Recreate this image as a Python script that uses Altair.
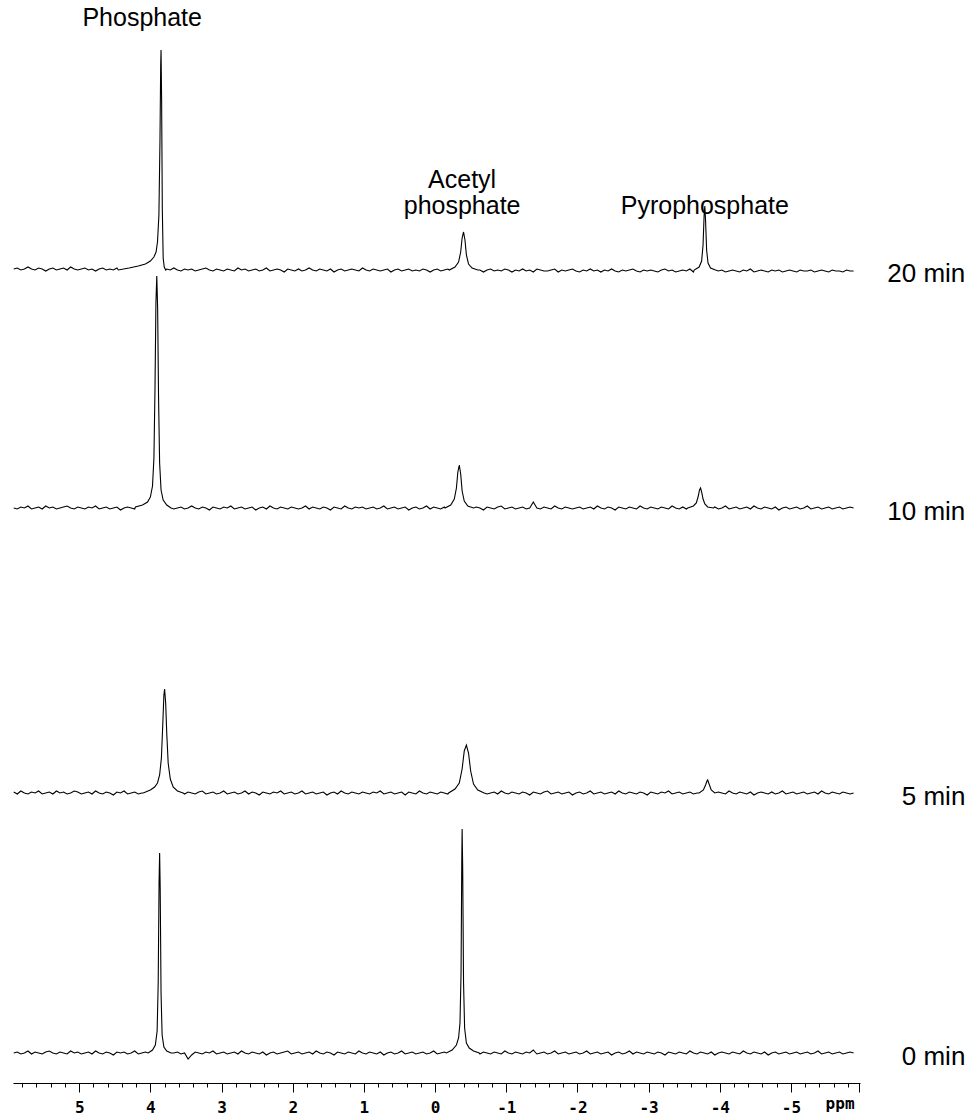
import altair as alt
import numpy as np
import pandas as pd

# ---------------- data ----------------
spectra = ["20 min", "10 min", "5 min", "0 min"]
baseline_level = [813, 575, 290, 30]          # stacking offset of each trace (intensity units)

grid_start = 5.92                              # ppm, acquisition grid of the baseline samples
grid_step = 0.05

noise_20 = [1, 2, 0, 1, 3, 1, 0, 2, 1, -1, 1, 2, 0, 1, 2, 0, 3, 1, 0, 1,
            2, 0, 1, -1, 1, 2, 0, 1, 0, 2, 1, -1, 0, 2, 1, 0, 1, 2, -1, 1,
            0, 1, -1, 1, 0, 2, 0, -1, 1, 0, 1, -1, 0, 1, 2, 0, -1, 1, 0, -1,
            1, 0, -1, 2, 0, 1, -1, 0, 1, -1, 0, 2, -1, 0, 1, 0, -2, 1, 0, -1,
            1, -1, 0, 2, 0, -1, 1, 0, -1, 1, -2, 0, 1, -1, 0, 1, 0, -1, 2, 0,
            -1, 1, 0, -1, 0, 1, -2, 0, 1, -1, 0, 1, -1, 0, -1, 1, 0, -2, 0, 1,
            -1, 0, 1, -1, 0, -2, 1, 0, -1, 1, -1, 0, -2, 0, 1, -1, 0, -1, 1, 0,
            -2, 0, -1, 1, -1, 0, -2, 1, 0, -1, -1, 0, 1, -2, 0, -1, 0, 1, -1, -2,
            0, -1, 1, -1, 0, -2, 0, -1, 1, -1, -2, 0, -1, 0, 1, -1, -2, 0, -1, 0,
            -1, -2, 0, 1, -1, 0, -2, -1, 0, -1, 1, -2, 0, -1, -1, 0, -2, 1, -1, 0,
            -2, -1, 0, -1, -2, 0, -1, 1, -2, -1, 0, -1, -2, 0, -1, 0, -2, -1, 0, -1,
            -2, 0, -1, -1, 0, -2, -1, 0, -1, -2, 0, -1, -1, -2, 0, -1, -1]
noise_10 = [0, -1, 1, 0, 2, -1, 0, 1, -1, 2, 0, 1, -1, 0, 1, 2, 0, -1, 1, 0,
            -1, 1, 0, 2, -1, 0, 1, -1, 0, 1, -2, 0, 1, 0, -1, 2, 0, 1, -1, 0,
            1, -1, 0, 1, 2, -1, 0, 1, -1, 0, 2, 0, -1, 1, 0, -2, 1, 0, -1, 1,
            0, 2, -1, 0, 1, -1, 0, 1, -2, 0, 1, -1, 2, 0, -1, 1, 0, -1, 1, 0,
            -1, 0, 2, -1, 1, 0, -1, 1, 0, -2, 1, 0, -1, 2, 0, -1, 1, 0, 1, -1,
            0, 1, -1, 0, 2, -1, 0, 1, -1, 0, 1, -2, 0, 1, -1, 0, 2, -1, 1, 0,
            -1, 1, 0, -1, 2, 0, -1, 1, 0, -1, 1, 0, -2, 1, 0, -1, 1, 2, -1, 0,
            1, -1, 0, 1, -1, 0, 6, 0, -1, 1, 0, -1, 2, 0, -1, 1, 0, -1, 0, 1,
            -1, 0, 1, -1, 2, 0, -1, 1, 0, -2, 1, 0, -1, 1, 0, -1, 2, 0, -1, 1,
            0, -1, 1, 0, -1, 2, 0, -1, 1, -1, 0, 1, -2, 0, 1, -1, 0, 1, -1, 0,
            2, -1, 0, 1, -1, 0, 1, -1, 2, 0, -1, 1, 0, -1, 1, -2, 0, 1, -1, 0,
            1, -1, 0, 2, -1, 0, 1, -1, 0, 1, -1, 0, 1, -1, 0, 1, 0]
noise_5 = [1, -1, 2, 0, -1, 1, 0, 2, -1, 0, 1, -1, 2, 0, 1, -1, 0, 2, 1, -1,
           0, 1, -1, 2, 0, -1, 1, 0, -2, 1, 0, 2, -1, 0, 1, -1, 0, 1, 2, -1,
           0, 1, -2, 0, 1, -1, 2, 0, -1, 1, 0, -1, 1, 2, -1, 0, 1, -1, 0, 2,
           -1, 0, 1, -1, 0, 2, -1, 1, 0, -2, 1, 0, -1, 1, 0, 2, -1, 0, 1, -1,
           0, 2, -1, 0, 1, -1, 0, 1, -2, 0, 1, -1, 2, 0, -1, 1, 0, -1, 1, 0,
           -1, 1, 0, 2, -1, 0, 1, -1, 0, 1, -2, 1, 0, -1, 2, 0, -1, 1, 0, -1,
           1, 0, -1, 1, -2, 0, 1, -1, 0, 2, -1, 0, 1, -1, 0, 1, -1, 2, 0, -1,
           1, 0, -1, 1, 0, -2, 1, 0, -1, 1, 2, -1, 0, 1, -1, 0, 1, -2, 0, 1,
           -1, 0, 2, -1, 0, 1, -1, 0, 1, -1, 2, 0, -1, 1, 0, -1, 1, 0, -2, 1,
           0, -1, 1, 0, 2, -1, 0, 1, -1, 0, 1, -1, 0, 2, -1, 1, 0, -1, 1, 0,
           -1, 2, 0, -1, 1, 0, -1, 1, -2, 0, 1, 0, -1, 1, -1, 0, 2, -1, 0, 1,
           -1, 0, 1, -1, 0, 1, -1, 2, 0, -1, 1, 0, -1, 1, 0, -1, 0]
noise_0 = [0, 1, -1, 0, 2, -1, 1, 0, -1, 1, 2, 0, -1, 1, 0, -1, 2, 0, 1, -1,
           0, 1, -1, 2, 0, -1, 1, 0, -2, 1, 0, 1, -1, 0, 2, -1, 0, 1, -1, 0,
           1, -1, 0, 2, -1, 0, 1, -1, 0, -6, -2, 1, 0, -1, 1, 0, 2, -1, 0, 1,
           -1, 0, 1, -1, 2, 0, -1, 1, 0, -1, 1, -2, 0, 1, -1, 0, 1, 2, -1, 0,
           1, -1, 0, 1, -1, 2, 0, -1, 1, 0, -2, 1, 0, -1, 1, 0, -1, 2, 0, -1,
           1, 0, -1, 1, -2, 0, 1, -1, 0, 2, -1, 0, 1, -1, 0, 1, -1, 0, 2, -1,
           0, 1, -1, 0, 1, -2, 0, 1, -1, 2, 0, -1, 1, 0, -1, 1, 0, -1, 2, 0,
           -1, 1, 0, -1, 1, 0, 3, -1, 0, 1, -1, 0, 2, -1, 0, 1, -1, 0, 1, -1,
           0, 2, -1, 0, 1, -1, 0, 1, -2, 0, 1, -1, 0, 2, -1, 1, 0, -1, 1, 0,
           -1, 1, 0, -2, 1, 0, -1, 1, 0, -1, 2, 0, -1, 1, 0, -1, 1, -2, 0, 1,
           0, -1, 1, 0, -1, 2, 0, -1, 1, 0, -1, 1, -2, 0, 1, -1, 0, 1, -1, 0,
           1, -1, 0, 1, -1, 0, 2, -1, 0, 1, -1, 0, 1, -1, 0, 1, 0]

# peak centres (ppm)
phos_center = [3.85, 3.91, 3.80, 3.87]
acetyl_center = [-0.40, -0.34, -0.44, -0.38]
pyro_center = [-3.79, -3.73, -3.83]

# peak profiles: ppm offsets from centre and heights
phos_20_dx = [0.60, 0.45, 0.32, 0.22, 0.15, 0.10, 0.07, 0.05, 0.03, 0.015, 0.005, 0.0, -0.008, -0.018, -0.03, -0.045, -0.065]
phos_20_h = [0, 2, 4, 6, 9, 13, 18, 28, 55, 130, 205, 220, 170, 60, 12, 3, 0]
phos_10_dx = [0.30, 0.20, 0.13, 0.09, 0.06, 0.04, 0.025, 0.012, 0.0, -0.012, -0.025, -0.04, -0.06, -0.09, -0.14, -0.20]
phos_10_h = [1, 3, 6, 11, 22, 50, 120, 205, 232, 200, 110, 45, 18, 8, 3, 0]
phos_5_dx = [0.30, 0.20, 0.14, 0.10, 0.07, 0.045, 0.025, 0.01, 0.0, -0.015, -0.03, -0.05, -0.08, -0.12, -0.18, -0.26]
phos_5_h = [0, 3, 6, 10, 18, 35, 70, 98, 104, 90, 60, 30, 14, 6, 2, 0]
phos_0_dx = [0.16, 0.10, 0.06, 0.035, 0.02, 0.008, 0.0, -0.008, -0.02, -0.035, -0.06, -0.10, -0.16]
phos_0_h = [0, 3, 8, 22, 70, 170, 200, 165, 60, 18, 6, 2, 0]

acetyl_20_dx = [0.20, 0.12, 0.07, 0.04, 0.02, 0.0, -0.02, -0.04, -0.07, -0.12, -0.20]
acetyl_20_h = [0, 3, 8, 18, 32, 38, 30, 15, 6, 2, 0]
acetyl_10_dx = [0.20, 0.12, 0.07, 0.04, 0.02, 0.0, -0.02, -0.04, -0.07, -0.12, -0.20]
acetyl_10_h = [0, 3, 9, 20, 36, 43, 34, 17, 7, 2, 0]
acetyl_5_dx = [0.25, 0.16, 0.10, 0.06, 0.03, 0.0, -0.03, -0.06, -0.10, -0.16, -0.25]
acetyl_5_h = [0, 4, 10, 24, 42, 48, 40, 22, 9, 3, 0]
acetyl_0_dx = [0.22, 0.14, 0.08, 0.05, 0.03, 0.015, 0.005, 0.0, -0.008, -0.02, -0.035, -0.06, -0.10, -0.16, -0.24]
acetyl_0_h = [0, 3, 8, 15, 30, 80, 190, 224, 185, 70, 25, 10, 5, 2, 0]

pyro_20_dx = [0.15, 0.08, 0.045, 0.025, 0.01, 0.0, -0.01, -0.025, -0.045, -0.08, -0.15]
pyro_20_h = [0, 3, 9, 25, 55, 64, 50, 20, 7, 2, 0]
pyro_10_dx = [0.18, 0.10, 0.06, 0.035, 0.015, 0.0, -0.015, -0.035, -0.06, -0.10, -0.18]
pyro_10_h = [0, 2, 5, 11, 18, 20, 16, 9, 4, 1, 0]
pyro_5_dx = [0.12, 0.06, 0.03, 0.01, 0.0, -0.02, -0.05, -0.10]
pyro_5_h = [0, 3, 8, 12, 13, 9, 3, 0]

# axis ticks (ppm)
tick_values = [5.8, 5.6, 5.4, 5.2, 5.0, 4.8, 4.6, 4.4, 4.2, 4.0, 3.8, 3.6, 3.4, 3.2, 3.0,
               2.8, 2.6, 2.4, 2.2, 2.0, 1.8, 1.6, 1.4, 1.2, 1.0, 0.8, 0.6, 0.4, 0.2, 0.0,
               -0.2, -0.4, -0.6, -0.8, -1.0, -1.2, -1.4, -1.6, -1.8, -2.0, -2.2, -2.4, -2.6,
               -2.8, -3.0, -3.2, -3.4, -3.6, -3.8, -4.0, -4.2, -4.4, -4.6, -4.8, -5.0, -5.2,
               -5.4, -5.6, -5.8, -5.96]

# annotations
ann_text = [["Phosphate"], ["Acetyl", "phosphate"], ["Pyrophosphate"]]
ann_ppm = [4.115, -0.38, -3.79]
ann_y = [1065, 903, 877]

# ---------------- assemble traces ----------------
noises = [noise_20, noise_10, noise_5, noise_0]
peak_sets = [
    [(phos_center[0], phos_20_dx, phos_20_h), (acetyl_center[0], acetyl_20_dx, acetyl_20_h), (pyro_center[0], pyro_20_dx, pyro_20_h)],
    [(phos_center[1], phos_10_dx, phos_10_h), (acetyl_center[1], acetyl_10_dx, acetyl_10_h), (pyro_center[1], pyro_10_dx, pyro_10_h)],
    [(phos_center[2], phos_5_dx, phos_5_h), (acetyl_center[2], acetyl_5_dx, acetyl_5_h), (pyro_center[2], pyro_5_dx, pyro_5_h)],
    [(phos_center[3], phos_0_dx, phos_0_h), (acetyl_center[3], acetyl_0_dx, acetyl_0_h)],
]

frames = []
for name, off, noise, peaks in zip(spectra, baseline_level, noises, peak_sets):
    ppm = np.round(grid_start - grid_step * np.arange(len(noise)), 4)
    val = np.array(noise, dtype=float)
    keep = np.ones(len(ppm), dtype=bool)
    px, pv = [], []
    for c, dx, h in peaks:
        xs = c + np.array(dx)
        keep &= ~((ppm >= xs.min()) & (ppm <= xs.max()))
        px.extend(xs.tolist())
        pv.extend(h)
    d = pd.DataFrame({"ppm": np.concatenate([ppm[keep], px]),
                      "v": np.concatenate([val[keep], pv])})
    d["y"] = d["v"] + off
    d["spectrum"] = name
    frames.append(d)
traces = pd.concat(frames, ignore_index=True)

labels_df = pd.DataFrame({"spectrum": spectra, "ppm": [-7.45] * 4, "y": baseline_level})
ann_df = pd.DataFrame({"text": ann_text, "ppm": ann_ppm, "y": ann_y})
unit_df = pd.DataFrame({"text": ["ppm"], "ppm": [-5.69], "y": [-21]})

# ---------------- chart ----------------
x_scale = alt.Scale(domain=[5.93, -5.97], nice=False, zero=False)
y_scale = alt.Scale(domain=[0, 1083], nice=False, zero=False)
is_major = "abs(datum.value - round(datum.value)) < 0.01 || datum.value < -5.9"
x_axis = alt.Axis(
    values=tick_values, title=None, grid=False,
    labelExpr="abs(datum.value - round(datum.value)) < 0.01 ? (round(datum.value) < 0 ? '-' + abs(round(datum.value)) : '' + round(datum.value)) : ''",
    tickSize={"condition": {"test": is_major, "value": 9}, "value": 4},
    domainColor="black", tickColor="black", labelColor="black",
    domainWidth=1, tickWidth=1,
    labelFont="DejaVu Sans Mono", labelFontSize=16, labelFontWeight="bold",
    labelPadding=7, labelOverlap=False, labelFlush=False, labelAngle=0,
)
xenc = alt.X("ppm:Q", scale=x_scale, axis=x_axis)
yenc = alt.Y("y:Q", scale=y_scale, axis=None)

lines = alt.Chart(traces).mark_line(color="black", strokeWidth=1.1).encode(
    x=xenc, y=yenc, detail="spectrum:N", order=alt.Order("ppm:Q", sort="descending"))

time_labels = alt.Chart(labels_df).mark_text(
    align="right", baseline="middle", dy=4, fontSize=26, font="Liberation Sans", color="black"
).encode(x=xenc, y=yenc, text="spectrum:N")

annotations = alt.Chart(ann_df).mark_text(
    align="center", baseline="middle", fontSize=25, lineHeight=26, font="Liberation Sans", color="black"
).encode(x=xenc, y=yenc, text="text")

unit = alt.Chart(unit_df).mark_text(
    align="center", baseline="middle", fontSize=16, font="DejaVu Sans Mono", fontWeight="bold", color="black"
).encode(x=xenc, y=yenc, text="text:N")

chart = alt.layer(lines, time_labels, annotations, unit).properties(
    width=847, height=1083,
    autosize=alt.AutoSizeParams(type="none"),
    padding={"left": 13, "right": 107, "top": 0, "bottom": 32},
    background="white",
).configure_view(stroke=None)

chart.save("out.html", embed_options={"renderer": "svg", "actions": False})
